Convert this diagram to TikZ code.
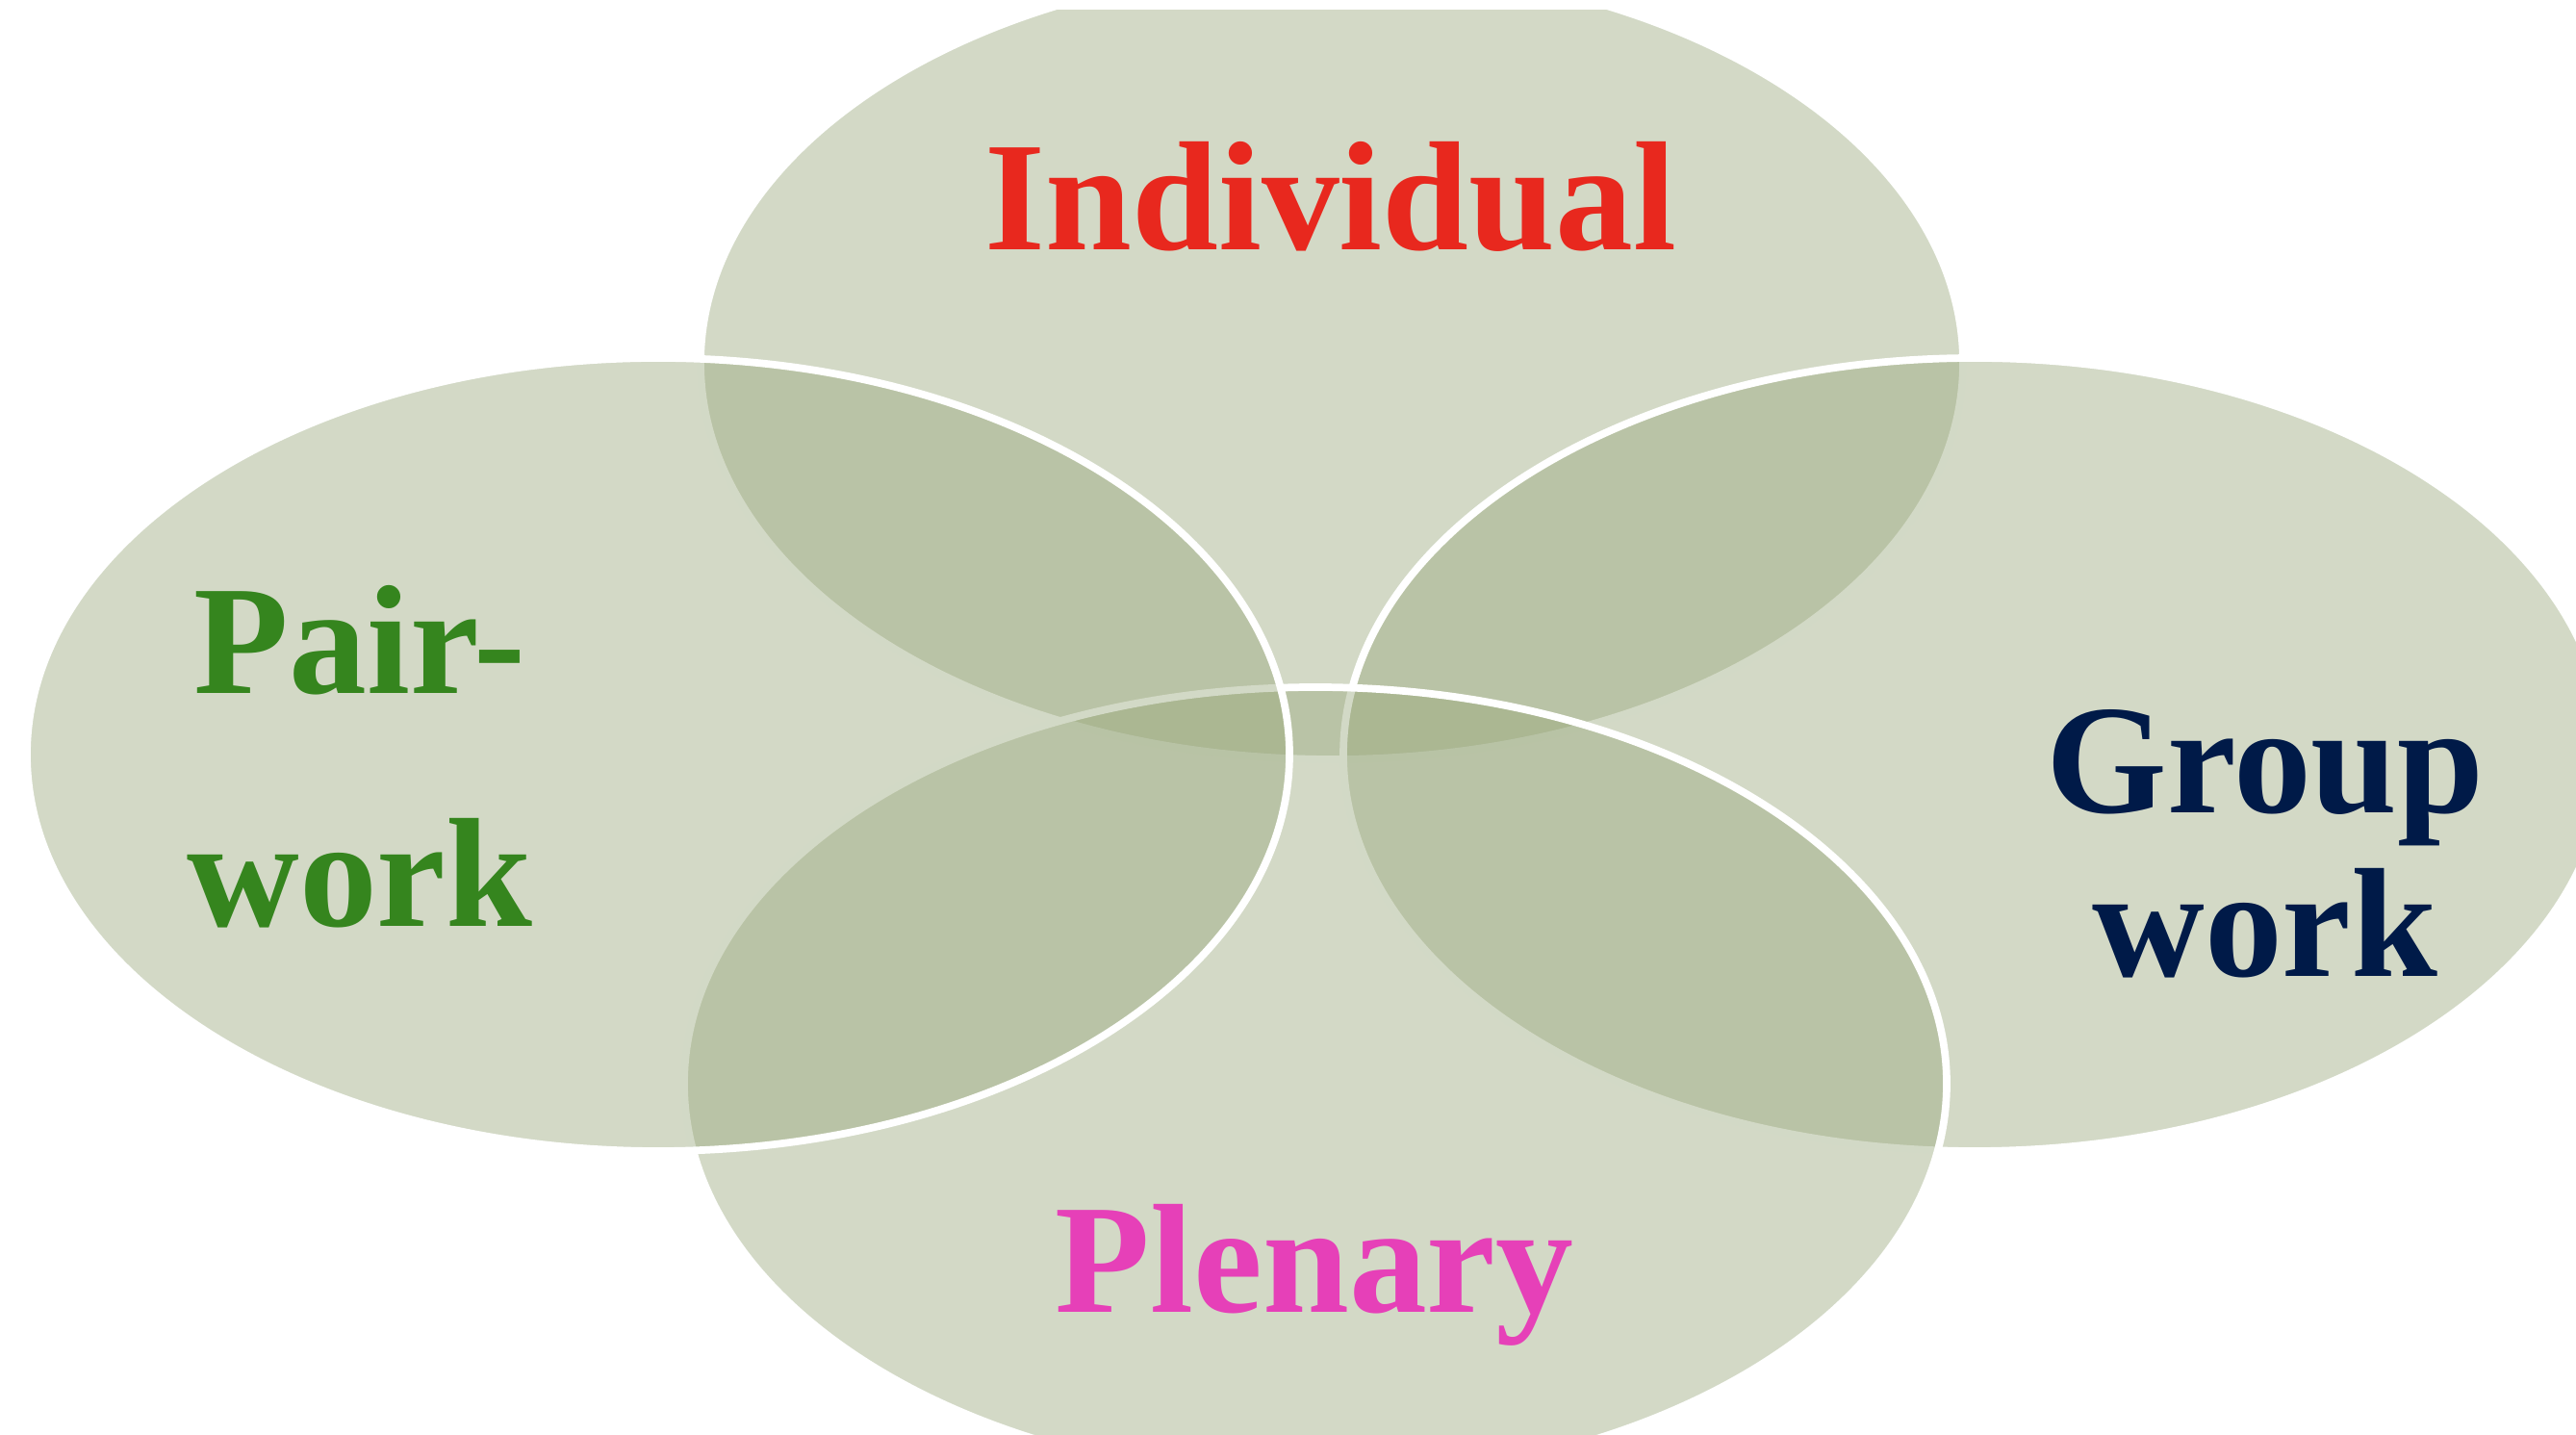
\documentclass[tikz,border=0pt]{standalone}
\usepackage{fontspec}
\setmainfont{Liberation Serif}
\usepackage{tikz}
\definecolor{vennfill}{RGB}{150,165,120}
\definecolor{indivRed}{RGB}{232,40,30}
\definecolor{pairGreen}{RGB}{53,133,30}
\definecolor{groupNavy}{RGB}{0,26,72}
\definecolor{plenPink}{RGB}{230,64,184}

\begin{document}
\begin{tikzpicture}[
  blob/.style={fill=vennfill, fill opacity=0.42, draw=white, line width=2.2pt},
  lbl/.style={font=\bfseries\fontsize{46}{68.9}\selectfont, align=center, anchor=base, inner sep=0pt}
]
  \useasboundingbox (0,0) rectangle (26.77,14.90);
  \begin{scope}
    \clip (0,0) rectangle (26.77,14.79);
    % top, right, bottom, left -- the last one keeps its white rim
    \foreach \cx/\cy in {13.84/11.13, 20.52/7.06, 13.67/3.64, 6.84/7.06} {
      \draw[blob] (\cx,\cy) ellipse [x radius=6.56, y radius=4.12];
    }
  \end{scope}
  % base anchor = baseline of the last line
  \node[lbl,indivRed] (indiv) at (13.83,12.30) {Individual};
  \node[lbl,pairGreen] (pair) at (3.74,5.27) {Pair-\\work};
  \node[lbl,groupNavy,font=\bfseries\fontsize{46}{48.4}\selectfont] (group) at (23.54,4.75) {Group\\work};
  \node[lbl,plenPink] (plen) at (13.66,1.26) {Plenary};
\end{tikzpicture}
\end{document}
